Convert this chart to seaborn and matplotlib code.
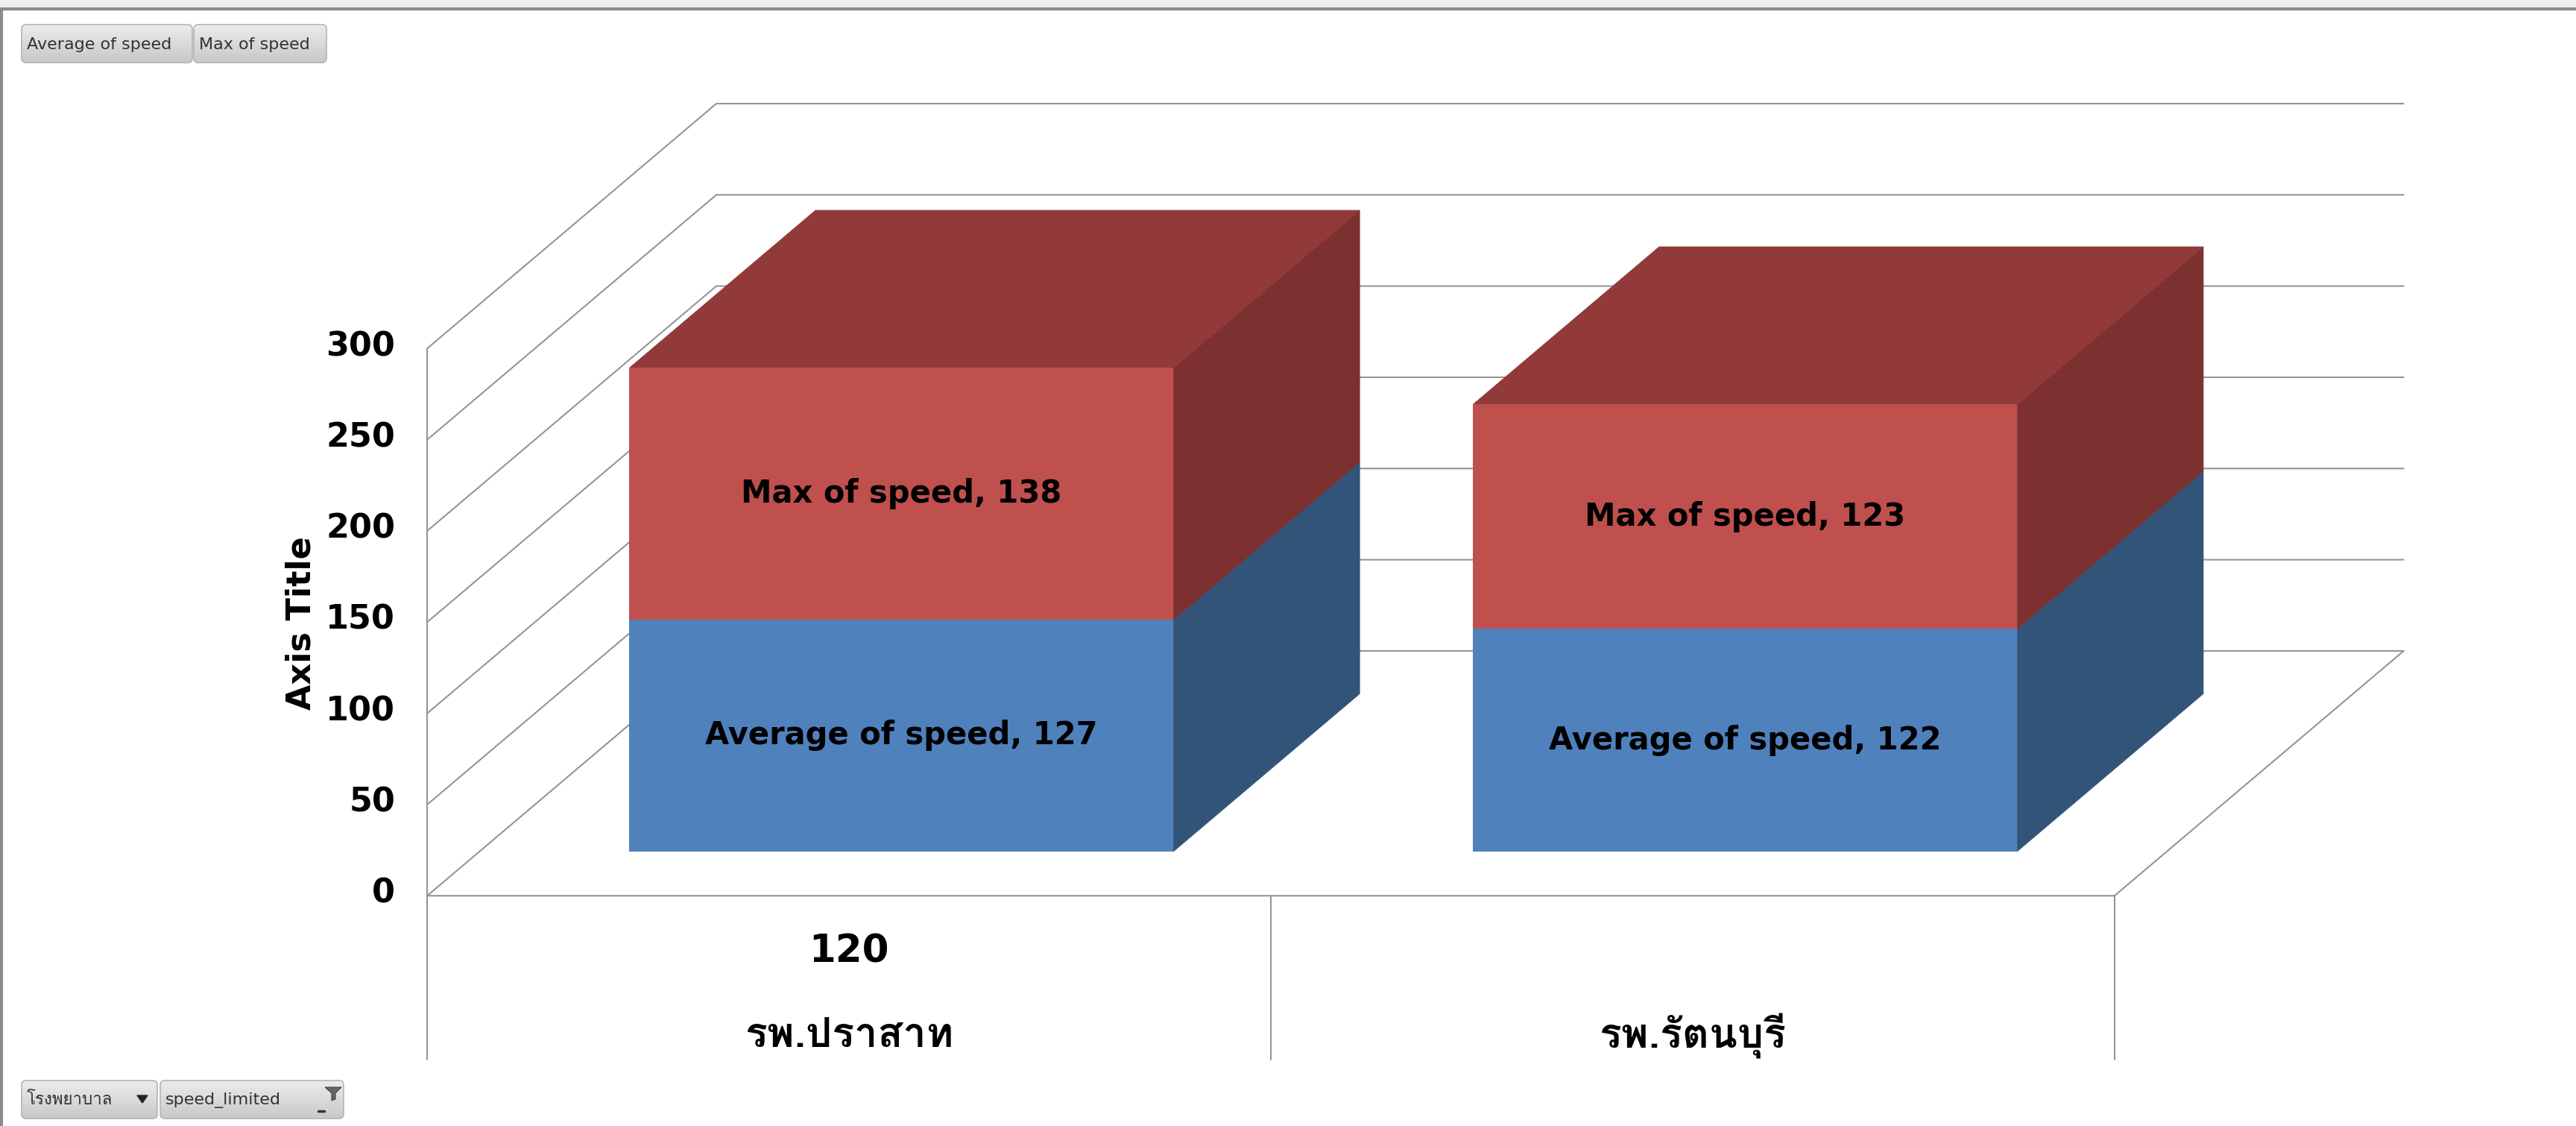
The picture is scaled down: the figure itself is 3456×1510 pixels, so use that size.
import numpy as np
import pandas as pd
import matplotlib
matplotlib.use('Agg')
import matplotlib.pyplot as plt
import matplotlib.transforms as mtransforms
from matplotlib import font_manager
from matplotlib.ft2font import FT2Font
from matplotlib.patches import Polygon, FancyBboxPatch
from matplotlib.colors import LinearSegmentedColormap
import seaborn as sns

# pivot chart values (hospital x speed_limited)
hospitals = ['รพ.ปราสาท', 'รพ.รัตนบุรี']
speed_limited = ['120', '']
avg_speed = [127, 122]
max_speed = [138, 123]
series_names = ['Average of speed', 'Max of speed']
y_ticks = [0, 50, 100, 150, 200, 250, 300]
row_fields = ['โรงพยาบาล', 'speed_limited']
axis_title = 'Axis Title'

BLUE, BLUE_SIDE = '#4F81BD', '#325479'
RED, RED_SIDE, RED_TOP = '#C0504D', '#7C3130', '#913A39'
GRID = '#959595'

# oblique "3d": full depth of the floor in data units (category, speed)
DEPTH_X, DEPTH_Y = 0.3427, 134.2
BAR_FRONT, BAR_BACK = 0.181, 0.825
BAR_WIDTH = 0.645


def pick_thai_font():
    preferred = ['Tahoma', 'Loma', 'Garuda', 'Noto Sans Thai', 'Noto Sans Thai UI',
                 'Sarabun', 'Tlwg Typo', 'Waree', 'Umpush', 'Kinnari', 'Norasi']
    found = {}
    for f in font_manager.fontManager.ttflist:
        if f.name in found:
            continue
        try:
            cmap = FT2Font(f.fname).get_charmap()
        except Exception:
            continue
        if 0x0E23 in cmap and 0x0E1E in cmap:
            found[f.name] = f.fname
    for name in preferred:
        if name in found:
            return name
    return next(iter(found), 'DejaVu Sans')


df = pd.DataFrame({'hospital': hospitals, 'avg': avg_speed, 'max': max_speed})
df['total'] = df['avg'] + df['max']

sns.set_theme(style='white')
plt.rcParams['font.family'] = ['DejaVu Sans']
plt.rcParams['text.color'] = 'black'
thai = pick_thai_font()
thai_fam = [thai, 'DejaVu Sans']

fig = plt.figure(figsize=(34.56, 15.10), dpi=100)
fig.patch.set_facecolor('white')
ax = fig.add_axes([0, 0, 1, 1])

# front faces: total first, average drawn over it -> stacked look
sns.barplot(data=df, x='hospital', y='total', color=RED, saturation=1,
            width=BAR_WIDTH, errorbar=None, linewidth=0, ax=ax, zorder=3)
sns.barplot(data=df, x='hospital', y='avg', color=BLUE, saturation=1,
            width=BAR_WIDTH, errorbar=None, linewidth=0, ax=ax, zorder=3)

ax.set_xlim(-1.0064, 2.047)
ax.set_ylim(-126.2, 491.0)
ax.set_axis_off()


def pt(x, v, d):
    return (x + d * DEPTH_X, v + d * DEPTH_Y)


shift = mtransforms.Affine2D().translate(BAR_FRONT * DEPTH_X, BAR_FRONT * DEPTH_Y) + ax.transData

# walls and floor
left, right = -0.5, len(hospitals) - 0.5
for v in y_ticks:
    xs, ys = zip(pt(left, v, 0), pt(left, v, 1), pt(right, v, 1))
    ax.plot(xs, ys, color=GRID, lw=1.5, zorder=1, solid_joinstyle='miter')
    ax.annotate(str(v), xy=pt(left, v, 0), xytext=(-31, 2), textcoords='offset points',
                ha='right', va='center', fontsize=32, fontweight='bold', color='black')
ax.plot(*zip(pt(left, 0, 0), pt(left, y_ticks[-1], 0)), color=GRID, lw=1.5, zorder=1)
ax.plot(*zip(pt(left, 0, 0), pt(right, 0, 0), pt(right, 0, 1)), color=GRID, lw=1.5, zorder=1)
for k in range(len(hospitals) + 1):
    ax.plot([left + k, left + k], [0, -90], color=GRID, lw=1.5, zorder=1)

# bars: shift front faces back, add sides and tops
red_bars = ax.patches[:len(hospitals)]
blue_bars = ax.patches[len(hospitals):2 * len(hospitals)]
for i, (rb, bb) in enumerate(zip(red_bars, blue_bars)):
    rb.set_transform(shift)
    bb.set_transform(shift)
    x0 = rb.get_x()
    x1 = x0 + rb.get_width()
    top = rb.get_height()
    mid = bb.get_height()
    f, b = BAR_FRONT, BAR_BACK
    faces = [
        ([pt(x1, 0, f), pt(x1, 0, b), pt(x1, mid, b), pt(x1, mid, f)], BLUE_SIDE),
        ([pt(x1, mid, f), pt(x1, mid, b), pt(x1, top, b), pt(x1, top, f)], RED_SIDE),
        ([pt(x0, top, f), pt(x1, top, f), pt(x1, top, b), pt(x0, top, b)], RED_TOP),
    ]
    for verts, col in faces:
        ax.add_patch(Polygon(verts, closed=True, facecolor=col, edgecolor=col,
                             lw=0.6, zorder=2.5))
    xc = (x0 + x1) / 2
    ax.text(*pt(xc, mid / 2, f), f'{series_names[0]}, {avg_speed[i]}', ha='center',
            va='center', fontsize=30, fontweight='bold', color='black', zorder=5)
    ax.text(*pt(xc, (mid + top) / 2, f), f'{series_names[1]}, {max_speed[i]}', ha='center',
            va='center', fontsize=30, fontweight='bold', color='black', zorder=5)

# category labels (two levels)
for i, (h, s) in enumerate(zip(hospitals, speed_limited)):
    if s:
        ax.text(i, -30.6, s, ha='center', va='center', fontsize=37, fontweight='bold',
                color='black')
    ax.text(i, -77, h, ha='center', va='center', fontsize=40, fontweight='bold',
            family=thai_fam, color='black')

fig.text(404 / 3456, 1 - 836 / 1510, axis_title, rotation=90, ha='center', va='center',
         fontsize=32, fontweight='bold', color='black')

# pivot chart field buttons and frame, in pixel coordinates
ui = fig.add_axes([0, 0, 1, 1], zorder=10)
ui.patch.set_alpha(0)
ui.set_axis_off()
grad_cmap = LinearSegmentedColormap.from_list('btn', ['#ECECEC', '#C8C8C8'])
grad = np.linspace(0, 1, 64).reshape(-1, 1)


def button(x0, x1, y0, y1, label, fam=None):
    box = FancyBboxPatch((x0, y0), x1 - x0, y1 - y0, boxstyle='round,pad=0,rounding_size=6',
                         facecolor='none', edgecolor='#B4B4B4', lw=1.2, zorder=3)
    ui.add_patch(box)
    im = ui.imshow(grad, extent=(x0, x1, y1, y0), cmap=grad_cmap, aspect='auto',
                   origin='upper', zorder=2)
    im.set_clip_path(box)
    ui.text(x0 + 7, (y0 + y1) / 2 + 1, label, ha='left', va='center', fontsize=16,
            color='#333333', family=fam or ['DejaVu Sans'], zorder=4)


button(29, 258, 33, 84, series_names[0])
button(260, 438, 33, 84, series_names[1])
button(29, 211, 1449, 1500, row_fields[0], fam=thai_fam)
button(215, 461, 1449, 1500, row_fields[1])
ui.add_patch(Polygon([(184, 1469), (198, 1469), (191, 1479)], closed=True, color='#222222', zorder=5))
ui.add_patch(Polygon([(436, 1458), (458, 1458), (450, 1466), (450, 1474), (445, 1476), (445, 1466)],
                     closed=True, facecolor='#666666', edgecolor='#444444', lw=0.8, zorder=5))
ui.plot([427, 435], [1490, 1490], color='#333333', lw=2.5, zorder=5)

# window frame
ui.add_patch(plt.Rectangle((0, 0), 3456, 10, color='#EFEFEF', zorder=1))
ui.plot([0, 3456], [12, 12], color='#8C8C8C', lw=3, zorder=6)
ui.plot([2, 2], [12, 1510], color='#8C8C8C', lw=3, zorder=6)

ui.set_xlim(0, 3456)
ui.set_ylim(1510, 0)

fig.savefig('out.png', dpi=100, facecolor='white')
